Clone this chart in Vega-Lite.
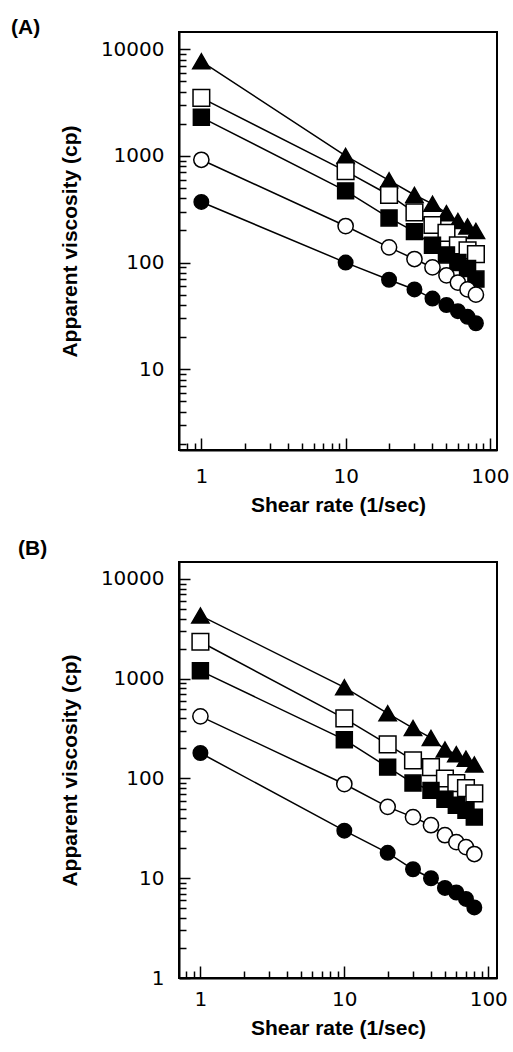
{
  "$schema": "https://vega.github.io/schema/vega-lite/v6.json",
  "padding": {"left": 10, "top": 16, "right": 5, "bottom": 5},
  "background": "white",
  "config": {
    "view": {"stroke": "black", "strokeWidth": 2},
    "font": "Liberation Sans",
    "axis": {
      "grid": false,
      "domainColor": "black",
      "domainWidth": 2,
      "tickColor": "black",
      "tickWidth": 1.5,
      "labelColor": "black",
      "labelFont": "DejaVu Sans",
      "labelFontSize": 20,
      "labelOverlap": false,
      "labelBound": false,
      "labelFlush": false,
      "titleColor": "black",
      "titleFont": "Liberation Sans",
      "titleFontSize": 21,
      "titleFontWeight": "bold"
    }
  },
  "datasets": {
    "A": [
      {"series": "T", "rate": 1, "visc": 7700}, {"series": "T", "rate": 10, "visc": 1000}, {"series": "T", "rate": 20, "visc": 590}, {"series": "T", "rate": 30, "visc": 430}, {"series": "T", "rate": 40, "visc": 355}, {"series": "T", "rate": 50, "visc": 290}, {"series": "T", "rate": 60, "visc": 245}, {"series": "T", "rate": 70, "visc": 218}, {"series": "T", "rate": 80, "visc": 198},
      {"series": "OS", "rate": 1, "visc": 3500}, {"series": "OS", "rate": 10, "visc": 720}, {"series": "OS", "rate": 20, "visc": 430}, {"series": "OS", "rate": 30, "visc": 295}, {"series": "OS", "rate": 40, "visc": 225}, {"series": "OS", "rate": 50, "visc": 190}, {"series": "OS", "rate": 60, "visc": 145}, {"series": "OS", "rate": 70, "visc": 130}, {"series": "OS", "rate": 80, "visc": 120},
      {"series": "FS", "rate": 1, "visc": 2300}, {"series": "FS", "rate": 10, "visc": 470}, {"series": "FS", "rate": 20, "visc": 262}, {"series": "FS", "rate": 30, "visc": 195}, {"series": "FS", "rate": 40, "visc": 145}, {"series": "FS", "rate": 50, "visc": 118}, {"series": "FS", "rate": 60, "visc": 100}, {"series": "FS", "rate": 70, "visc": 88}, {"series": "FS", "rate": 80, "visc": 70},
      {"series": "OC", "rate": 1, "visc": 920}, {"series": "OC", "rate": 10, "visc": 220}, {"series": "OC", "rate": 20, "visc": 139}, {"series": "OC", "rate": 30, "visc": 108}, {"series": "OC", "rate": 40, "visc": 90}, {"series": "OC", "rate": 50, "visc": 76}, {"series": "OC", "rate": 60, "visc": 65}, {"series": "OC", "rate": 70, "visc": 56}, {"series": "OC", "rate": 80, "visc": 50},
      {"series": "FC", "rate": 1, "visc": 370}, {"series": "FC", "rate": 10, "visc": 100}, {"series": "FC", "rate": 20, "visc": 69}, {"series": "FC", "rate": 30, "visc": 56}, {"series": "FC", "rate": 40, "visc": 46}, {"series": "FC", "rate": 50, "visc": 40}, {"series": "FC", "rate": 60, "visc": 35}, {"series": "FC", "rate": 70, "visc": 31}, {"series": "FC", "rate": 80, "visc": 27}
    ],
    "B": [
      {"series": "T", "rate": 1, "visc": 4300}, {"series": "T", "rate": 10, "visc": 820}, {"series": "T", "rate": 20, "visc": 450}, {"series": "T", "rate": 30, "visc": 320}, {"series": "T", "rate": 40, "visc": 255}, {"series": "T", "rate": 50, "visc": 195}, {"series": "T", "rate": 60, "visc": 175}, {"series": "T", "rate": 70, "visc": 158}, {"series": "T", "rate": 80, "visc": 138},
      {"series": "OS", "rate": 1, "visc": 2350}, {"series": "OS", "rate": 10, "visc": 400}, {"series": "OS", "rate": 20, "visc": 220}, {"series": "OS", "rate": 30, "visc": 152}, {"series": "OS", "rate": 40, "visc": 130}, {"series": "OS", "rate": 50, "visc": 100}, {"series": "OS", "rate": 60, "visc": 90}, {"series": "OS", "rate": 70, "visc": 80}, {"series": "OS", "rate": 80, "visc": 71},
      {"series": "FS", "rate": 1, "visc": 1200}, {"series": "FS", "rate": 10, "visc": 245}, {"series": "FS", "rate": 20, "visc": 130}, {"series": "FS", "rate": 30, "visc": 90}, {"series": "FS", "rate": 40, "visc": 76}, {"series": "FS", "rate": 50, "visc": 62}, {"series": "FS", "rate": 60, "visc": 54}, {"series": "FS", "rate": 70, "visc": 48}, {"series": "FS", "rate": 80, "visc": 41},
      {"series": "OC", "rate": 1, "visc": 420}, {"series": "OC", "rate": 10, "visc": 88}, {"series": "OC", "rate": 20, "visc": 52}, {"series": "OC", "rate": 30, "visc": 41}, {"series": "OC", "rate": 40, "visc": 34}, {"series": "OC", "rate": 50, "visc": 27}, {"series": "OC", "rate": 60, "visc": 23}, {"series": "OC", "rate": 70, "visc": 20.5}, {"series": "OC", "rate": 80, "visc": 17.5},
      {"series": "FC", "rate": 1, "visc": 180}, {"series": "FC", "rate": 10, "visc": 30}, {"series": "FC", "rate": 20, "visc": 18}, {"series": "FC", "rate": 30, "visc": 12.3}, {"series": "FC", "rate": 40, "visc": 10}, {"series": "FC", "rate": 50, "visc": 8}, {"series": "FC", "rate": 60, "visc": 7.2}, {"series": "FC", "rate": 70, "visc": 6.2}, {"series": "FC", "rate": 80, "visc": 5.1}
    ]
  },
  "spacing": 21,
  "vconcat": [
    {
      "width": 318,
      "height": 418,
      "title": {"text": "(A)", "anchor": "start", "frame": "group", "fontSize": 21, "fontWeight": "bold", "font": "Liberation Sans", "color": "black", "baseline": "alphabetic", "offset": 0, "dx": -168, "dy": 23},
      "data": {"name": "A"},
      "layer": [
        {
          "mark": {"type": "line", "color": "black", "strokeWidth": 1.5},
          "encoding": {
            "x": {"field": "rate", "type": "quantitative", "scale": {"type": "log", "domain": [0.7, 112], "nice": false},
                  "axis": {"values": [1, 10, 100], "format": "d", "ticks": false, "labelPadding": 16, "title": "Shear rate (1/sec)", "titlePadding": 8}},
            "y": {"field": "visc", "type": "quantitative", "scale": {"type": "log", "domain": [1.75, 14500], "nice": false},
                  "axis": {"values": [10, 100, 1000, 10000], "format": "d", "ticks": false, "labelPadding": 15, "title": "Apparent viscosity (cp)", "titlePadding": 20}},
            "detail": {"field": "series", "type": "nominal"}
          }
        },
        {
          "mark": {"type": "point", "opacity": 0, "size": 1},
          "encoding": {
            "x": {"field": "rate", "type": "quantitative", "scale": {"type": "log", "domain": [0.7, 112], "nice": false},
                  "axis": {"orient": "top", "offset": -418, "values": [1, 10, 100], "labels": false, "domain": false, "tickSize": 12, "title": null}},
            "y": {"field": "visc", "type": "quantitative", "scale": {"type": "log", "domain": [1.75, 14500], "nice": false},
                  "axis": {"orient": "right", "offset": -318, "values": [10, 100, 1000, 10000], "labels": false, "domain": false, "tickSize": 11, "title": null}}
          }
        },
        {
          "mark": {"type": "point", "opacity": 1, "stroke": "black", "strokeWidth": 1.5, "filled": false},
          "encoding": {
            "x": {"field": "rate", "type": "quantitative", "scale": {"type": "log", "domain": [0.7, 112], "nice": false},
                  "axis": {"orient": "top", "offset": -418, "values": [0.8, 0.9, 2, 3, 4, 5, 6, 7, 8, 9, 20, 30, 40, 50, 60, 70, 80, 90], "labels": false, "domain": false, "tickSize": 7, "title": null}},
            "y": {"field": "visc", "type": "quantitative", "scale": {"type": "log", "domain": [1.75, 14500], "nice": false},
                  "axis": {"orient": "right", "offset": -318, "values": [2, 3, 4, 5, 6, 7, 8, 9, 20, 30, 40, 50, 60, 70, 80, 90, 200, 300, 400, 500, 600, 700, 800, 900, 2000, 3000, 4000, 5000, 6000, 7000, 8000, 9000], "labels": false, "domain": false, "tickSize": 7, "title": null}},
            "shape": {"field": "series", "type": "nominal", "legend": null, "scale": {"domain": ["T", "OS", "FS", "OC", "FC"], "range": ["triangle-up", "square", "square", "circle", "circle"]}},
            "fill": {"field": "series", "type": "nominal", "legend": null, "scale": {"domain": ["T", "OS", "FS", "OC", "FC"], "range": ["black", "white", "black", "white", "black"]}},
            "size": {"field": "series", "type": "nominal", "legend": null, "scale": {"domain": ["T", "OS", "FS", "OC", "FC"], "range": [300, 210, 210, 260, 260]}}
          }
        }
      ],
      "resolve": {"axis": {"x": "independent", "y": "independent"}}
    },
    {
      "width": 318,
      "height": 416,
      "title": {"text": "(B)", "anchor": "start", "frame": "group", "fontSize": 21, "fontWeight": "bold", "font": "Liberation Sans", "color": "black", "baseline": "alphabetic", "offset": 0, "dx": -161, "dy": 14},
      "data": {"name": "B"},
      "layer": [
        {
          "mark": {"type": "line", "color": "black", "strokeWidth": 1.5},
          "encoding": {
            "x": {"field": "rate", "type": "quantitative", "scale": {"type": "log", "domain": [0.71, 115], "nice": false},
                  "axis": {"values": [1, 10, 100], "format": "d", "ticks": false, "labelPadding": 11, "title": "Shear rate (1/sec)", "titlePadding": 8}},
            "y": {"field": "visc", "type": "quantitative", "scale": {"type": "log", "domain": [1, 14800], "nice": false},
                  "axis": {"values": [1, 10, 100, 1000, 10000], "format": "d", "ticks": false, "labelPadding": 15, "title": "Apparent viscosity (cp)", "titlePadding": 20}},
            "detail": {"field": "series", "type": "nominal"}
          }
        },
        {
          "mark": {"type": "point", "opacity": 0, "size": 1},
          "encoding": {
            "x": {"field": "rate", "type": "quantitative", "scale": {"type": "log", "domain": [0.71, 115], "nice": false},
                  "axis": {"orient": "top", "offset": -416, "values": [1, 10, 100], "labels": false, "domain": false, "tickSize": 12, "title": null}},
            "y": {"field": "visc", "type": "quantitative", "scale": {"type": "log", "domain": [1, 14800], "nice": false},
                  "axis": {"orient": "right", "offset": -318, "values": [1, 10, 100, 1000, 10000], "labels": false, "domain": false, "tickSize": 11, "title": null}}
          }
        },
        {
          "mark": {"type": "point", "opacity": 1, "stroke": "black", "strokeWidth": 1.5, "filled": false},
          "encoding": {
            "x": {"field": "rate", "type": "quantitative", "scale": {"type": "log", "domain": [0.71, 115], "nice": false},
                  "axis": {"orient": "top", "offset": -416, "values": [0.8, 0.9, 2, 3, 4, 5, 6, 7, 8, 9, 20, 30, 40, 50, 60, 70, 80, 90], "labels": false, "domain": false, "tickSize": 7, "title": null}},
            "y": {"field": "visc", "type": "quantitative", "scale": {"type": "log", "domain": [1, 14800], "nice": false},
                  "axis": {"orient": "right", "offset": -318, "values": [2, 3, 4, 5, 6, 7, 8, 9, 20, 30, 40, 50, 60, 70, 80, 90, 200, 300, 400, 500, 600, 700, 800, 900, 2000, 3000, 4000, 5000, 6000, 7000, 8000, 9000], "labels": false, "domain": false, "tickSize": 7, "title": null}},
            "shape": {"field": "series", "type": "nominal", "legend": null, "scale": {"domain": ["T", "OS", "FS", "OC", "FC"], "range": ["triangle-up", "square", "square", "circle", "circle"]}},
            "fill": {"field": "series", "type": "nominal", "legend": null, "scale": {"domain": ["T", "OS", "FS", "OC", "FC"], "range": ["black", "white", "black", "white", "black"]}},
            "size": {"field": "series", "type": "nominal", "legend": null, "scale": {"domain": ["T", "OS", "FS", "OC", "FC"], "range": [300, 210, 210, 260, 260]}}
          }
        }
      ],
      "resolve": {"axis": {"x": "independent", "y": "independent"}}
    }
  ]
}
